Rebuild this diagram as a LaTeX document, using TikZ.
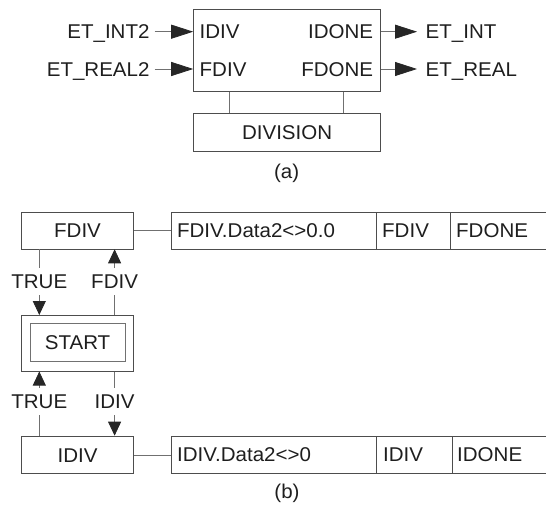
\documentclass[tikz,border=0pt]{standalone}
\usepackage{fontspec}
\setmainfont{Liberation Sans}[FakeStretch=1.03]
\usetikzlibrary{arrows.meta}
\definecolor{txtc}{HTML}{1E1E1E}
\definecolor{boxc}{HTML}{4D4D4D}
\definecolor{lnc}{HTML}{707070}
\definecolor{tipc}{HTML}{262626}
\tikzset{
  every node/.style={text=txtc, font=\fontsize{20}{24}\selectfont},
  box/.style={draw=boxc, line width=0.8bp, inner sep=0pt, anchor=north west},
  txt/.style={inner sep=0pt, text height=14.3bp, text depth=0bp},
  lbl/.style={inner sep=0pt, text height=14.3bp, text depth=0bp, minimum height=27bp},
  ln/.style={draw=lnc, line width=0.8bp},
  arrH/.style={ln, -{Triangle[length=22bp,width=14bp,color=tipc]}},
  arrV/.style={ln, -{Triangle[length=14bp,width=13bp,color=tipc]}},
}
\begin{document}
\begin{tikzpicture}[x=1bp,y=-1bp]
\useasboundingbox (0,0) rectangle (546,506);
% ---------- (a)
\node[box, minimum width=187bp, minimum height=81.7bp] (main) at (193.2,9.3) {};
\node[txt, anchor=west] (pidiv) at (199.5,31.7) {IDIV};
\node[txt, anchor=west] (pfdiv) at (199.5,69) {FDIV};
\node[txt, anchor=east] (pidone) at (373.3,31.7) {IDONE};
\node[txt, anchor=east] (pfdone) at (373.3,69) {FDONE};
\node[txt, anchor=east] (eti2) at (149.7,31.7) {ET\_INT2};
\node[txt, anchor=east] (etr2) at (149.7,69) {ET\_REAL2};
\node[txt, anchor=west] (eti) at (425.5,31.7) {ET\_INT};
\node[txt, anchor=west] (etr) at (425.5,69) {ET\_REAL};
\draw[arrH] ([xshift=5bp]eti2.east) -- (eti2.east -| main.west);
\draw[arrH] ([xshift=5bp]etr2.east) -- (etr2.east -| main.west);
\draw[arrH] (pidone.east -| main.east) -- ([xshift=-8.5bp]eti.west);
\draw[arrH] (pfdone.east -| main.east) -- ([xshift=-8.5bp]etr.west);
\node[box, minimum width=187bp, minimum height=37.7bp] (div) at (193.2,113.3) {};
\node[txt] (divt) at (div.center) {DIVISION};
\coordinate (c1) at (229.8,100);
\coordinate (c2) at (343,100);
\draw[ln] (main.south -| c1) -- (div.north -| c1);
\draw[ln] (main.south -| c2) -- (div.north -| c2);
\node (capa) at (286.7,173) {(a)};
% ---------- (b)
\node[box, minimum width=112.5bp, minimum height=37.0bp] (fdivb) at (20.9,211.5) {};
\node[txt] (fdivt) at (fdivb.center) {FDIV};
\node[box, minimum width=205.8bp, minimum height=37.0bp] (fc1) at (170.6,211.5) {};
\node[box, minimum width=73.8bp, minimum height=37.0bp] (fc2) at (376.4,211.5) {};
\node[box, minimum width=110bp, minimum height=37.0bp] (fc3) at (450.2,211.5) {};
\node[txt, anchor=west] (fc1t) at (176.9,230) {FDIV.Data2<>0.0};
\node[txt, anchor=west] (fc2t) at (382,230) {FDIV};
\node[txt, anchor=west] (fc3t) at (456,230) {FDONE};
\draw[ln] (fdivb.east) -- (fc1.west);
%
\node[box, minimum width=112.5bp, minimum height=55.7bp] (start) at (20.9,315) {};
\node[box, draw=boxc!80, minimum width=95.1bp, minimum height=37.7bp] (starti) at (29.6,323.3) {};
\node[txt] (startt) at (starti.center) {START};
%
\node[lbl] (tu) at (39.3,281.7) {TRUE};
\node[lbl] (fu) at (114.6,281.7) {FDIV};
\draw[ln] (fdivb.south -| tu) -- (tu.north);
\draw[arrV] (tu.south) -- (start.north -| tu);
\draw[ln] (start.north -| fu) -- (fu.south);
\draw[arrV] (fu.north) -- (fdivb.south -| fu);
%
\node[box, minimum width=112.5bp, minimum height=37.6bp] (idivb) at (20.9,435.7) {};
\node[txt] (idivt) at (idivb.center) {IDIV};
\node[box, minimum width=205.8bp, minimum height=37.6bp] (ic1) at (170.6,435.7) {};
\node[box, minimum width=75.2bp, minimum height=37.6bp] (ic2) at (376.4,435.7) {};
\node[box, minimum width=110bp, minimum height=37.6bp] (ic3) at (451.6,435.7) {};
\node[txt, anchor=west] (ic1t) at (176.9,454.5) {IDIV.Data2<>0};
\node[txt, anchor=west] (ic2t) at (383,454.5) {IDIV};
\node[txt, anchor=west] (ic3t) at (457,454.5) {IDONE};
\draw[ln] (idivb.east) -- (ic1.west);
%
\node[lbl] (tl) at (39.3,401.7) {TRUE};
\node[lbl] (il) at (114.6,401.7) {IDIV};
\draw[ln] (idivb.north -| tl) -- (tl.south);
\draw[arrV] (tl.north) -- (start.south -| tl);
\draw[ln] (start.south -| il) -- (il.north);
\draw[arrV] (il.south) -- (idivb.north -| il);
%
\node (capb) at (287,493) {(b)};
\end{tikzpicture}
\end{document}
